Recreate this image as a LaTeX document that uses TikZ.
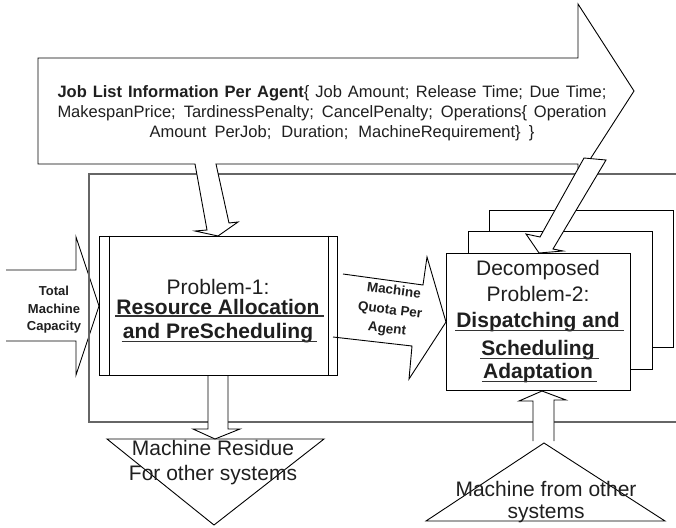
\documentclass[tikz,border=0pt]{standalone}
\usepackage{fontspec}
\setmainfont{Liberation Sans}
\begin{document}
\begin{tikzpicture}[x=1pt,y=-1pt]
\tikzset{
  outline/.style={draw=black, line width=0.9pt, line join=miter},
  blockfill/.style={outline, fill=white},
  frameline/.style={draw=black!60, line width=1.2pt},
  boxshape/.style={draw=black, line width=0.9pt, fill=white, inner sep=0pt, minimum width=184pt},
  lbl/.style={inner sep=0pt, anchor=base, text=black!88},
  bigtext/.style={lbl, font=\fontsize{21}{25}\selectfont},
  bigbold/.style={lbl, font=\fontsize{21}{25}\selectfont\bfseries},
  toptext/.style={lbl, font=\fontsize{16.5}{20}\selectfont},
  smallbold/.style={lbl, font=\fontsize{13}{17}\selectfont\bfseries},
  quotatext/.style={inner sep=0pt, text=black!88, rotate=-7, font=\fontsize{13.5}{17}\selectfont\bfseries},
  uline/.style={draw=black!80, line width=1.3pt}
}
\useasboundingbox (0,0) rectangle (676,527);

% input arrow on the left (open tail)
\draw[outline] (6,270) -- (76,270) -- (76,237) -- (99,306) -- (76,375) -- (76,341) -- (6,341);

% system frame, open to the right
\draw[frameline] (676,174) -- (89,174) -- (89,422) -- (676,422);

% Problem-1 box with its inner side bars
\node[draw=black, line width=0.9pt, fill=white, inner sep=0pt,
      minimum width=238pt, minimum height=139pt] (p1box) at (218,305.5) {};
\draw[outline] ([xshift=11pt]p1box.north west) -- ([xshift=11pt]p1box.south west);
\draw[outline] ([xshift=-9pt]p1box.north east) -- ([xshift=-9pt]p1box.south east);

% stack of decomposed sub-problems
\node[boxshape, minimum height=137pt] (d3) at (581,278.5) {};
\node[boxshape, minimum height=138pt] (d2) at (560,300) {};
\node[boxshape, minimum height=137pt] (d1) at (538,321.5) {};

% quota arrow between the two problems
\draw[outline] (343,274) -- (423,285) -- (427,257) -- (446,322) -- (409,379) -- (412,346) -- (333,337);

% job list arrow, merged with its branch into Problem-1
\draw[blockfill] (38,58) -- (578,58) -- (578,4) -- (634,91) -- (578,178) -- (578,164)
  -- (216,164) -- (229,223) -- (238,222) -- (218,236) -- (195,231) -- (207,230)
  -- (195,164) -- (38,164) -- cycle;

% branch from the job list arrow into the decomposed problems
\draw[blockfill] (584,158) -- (606,160) -- (553,249) -- (563,251) -- (539,253)
  -- (526,234) -- (540,237) -- cycle;

% residue output and external supply
\draw[outline] (107,439) -- (324,439) -- (214,525) -- cycle;
\draw[outline] (426,521) -- (665,521) -- (544,443) -- cycle;
\draw[blockfill] (208,376) -- (208,429) -- (193,429) -- (215,439) -- (240,429) -- (228,429) -- (228,376);
\draw[blockfill] (533,441) -- (533,401) -- (519,401) -- (542,391) -- (566,400) -- (554,400) -- (554,441);

% job list text
\node[toptext] (j1) at (332,97) {\makebox[549pt][s]{\textbf{Job List Information Per Agent}\{ Job Amount; Release Time; Due Time;}};
\node[toptext] (j2) at (332,117) {\makebox[549pt][s]{MakespanPrice; TardinessPenalty; CancelPenalty; Operations\{ Operation}};
\node[toptext] (j3) at (342,137) {\makebox[385pt][s]{Amount PerJob; Duration; MachineRequirement\} \}}};

% left arrow label
\node[smallbold] (t1) at (54,295) {Total};
\node[smallbold] (t2) at (54,313) {Machine};
\node[smallbold] (t3) at (54,330) {Capacity};

% quota label, tilted with its arrow
\node[quotatext] (q1) at (394,290) {Machine};
\node[quotatext] (q2) at (390,311) {Quota Per};
\node[quotatext] (q3) at (387,330) {Agent};

% Problem-1 text
\node[bigtext] (p1a) at (218,294) {Problem-1:};
\node[bigbold] (p1b) at (218,314) {Resource Allocation};
\node[bigbold] (p1c) at (218,338) {and PreScheduling};
\draw[uline] ([xshift=-1pt,yshift=-2pt]p1b.base west) -- ([xshift=4pt,yshift=-2pt]p1b.base east);
\draw[uline] ([xshift=-1pt,yshift=-3.5pt]p1c.base west) -- ([xshift=4pt,yshift=-3.5pt]p1c.base east);

% Problem-2 text
\node[bigtext] (p2a) at (538,275) {Decomposed};
\node[bigtext] (p2b) at (538,301) {Problem-2:};
\node[bigbold] (p2c) at (538,327) {Dispatching and};
\node[bigbold] (p2d) at (538,355) {Scheduling};
\node[bigbold] (p2e) at (538,378) {Adaptation};
\draw[uline] ([xshift=-1pt,yshift=-3.5pt]p2c.base west) -- ([xshift=4pt,yshift=-3.5pt]p2c.base east);
\draw[uline] ([xshift=-1pt,yshift=-3.5pt]p2d.base west) -- ([xshift=4pt,yshift=-3.5pt]p2d.base east);
\draw[uline] ([xshift=-1pt,yshift=-3.5pt]p2e.base west) -- ([xshift=4pt,yshift=-3.5pt]p2e.base east);

% triangle labels
\node[bigtext] (r1) at (213,455) {Machine Residue};
\node[bigtext] (r2) at (213,480) {For other systems};
\node[bigtext] (s1) at (546,496) {Machine from other};
\node[bigtext] (s2) at (546,518) {systems};
\end{tikzpicture}
\end{document}
